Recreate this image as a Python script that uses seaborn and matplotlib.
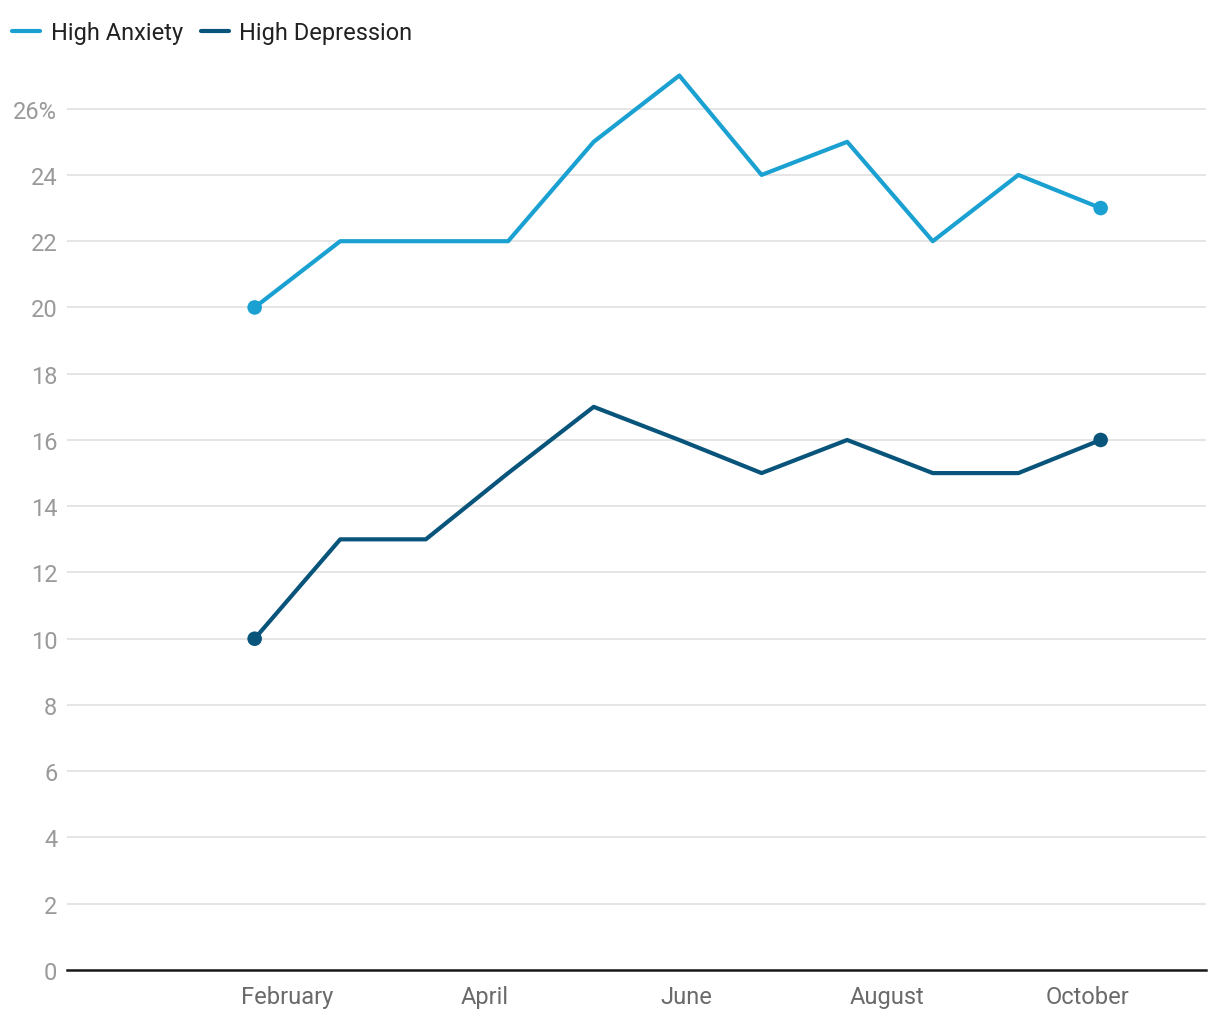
import matplotlib
matplotlib.use('Agg')
import matplotlib.pyplot as plt
import seaborn as sns
import pandas as pd

# survey dates
dates = ['2020-01-22', '2020-02-17', '2020-03-14', '2020-04-08', '2020-05-04',
         '2020-05-30', '2020-06-24', '2020-07-20', '2020-08-15', '2020-09-10',
         '2020-10-05']
anxiety = [20, 22, 22, 22, 25, 27, 24, 25, 22, 24, 23]
depression = [10, 13, 13, 15, 17, 16, 15, 16, 15, 15, 16]
series_names = ['High Anxiety', 'High Depression']
colors = ['#1aa1d1', '#08547a']
y_ticks = [0, 2, 4, 6, 8, 10, 12, 14, 16, 18, 20, 22, 24, 26]
x_ticks = ['2020-02-01', '2020-04-01', '2020-06-01', '2020-08-01', '2020-10-01']
x_labels = ['February', 'April', 'June', 'August', 'October']

df = pd.DataFrame({
    'date': pd.to_datetime(dates * 2),
    'value': anxiety + depression,
    'series': [series_names[0]] * len(dates) + [series_names[1]] * len(dates),
})
ends = df.groupby('series').nth([0, -1])

sns.set_style('white')
plt.rcParams['font.family'] = ['Roboto', 'DejaVu Sans']

fig = plt.figure(figsize=(12.2, 10.2), dpi=100)
ax = fig.add_axes([67 / 1220, 1 - 971 / 1020, (1206 - 67) / 1220, (971 - 60) / 1020])

palette = dict(zip(series_names, colors))
sns.lineplot(data=df, x='date', y='value', hue='series', palette=palette,
             linewidth=3, ax=ax, legend=False)
sns.scatterplot(data=ends, x='date', y='value', hue='series', palette=palette,
                s=110, edgecolor='none', ax=ax, legend=False, zorder=5)

ax.set_xlim(pd.Timestamp('2019-11-26'), pd.Timestamp('2020-11-06'))
ax.set_ylim(0, 27.5)
ax.set_yticks(y_ticks)
ax.set_yticklabels([f'{v}%' if v == 26 else str(v) for v in y_ticks])
ax.set_xticks(pd.to_datetime(x_ticks))
ax.set_xticklabels(x_labels)
ax.set_xlabel('')
ax.set_ylabel('')

ax.grid(axis='y', color='#e3e3e3', linewidth=1.3)
ax.grid(axis='x', visible=False)
for s in ['top', 'right', 'left']:
    ax.spines[s].set_visible(False)
ax.spines['bottom'].set_color('#1a1a1a')
ax.spines['bottom'].set_linewidth(1.8)
ax.spines['bottom'].set_zorder(6)

ax.tick_params(axis='y', length=0, pad=7, labelsize=17, labelcolor='#9a9a9a')
ax.tick_params(axis='x', length=0, pad=11, labelsize=17, labelcolor='#6a6a6a')

handles = [plt.Line2D([], [], color=c, linewidth=3) for c in colors]
fig.legend(handles, series_names, loc='upper left', bbox_to_anchor=(-0.002, 0.992),
           ncol=2, frameon=False, fontsize=17, handlelength=1.2,
           handletextpad=0.45, columnspacing=0.75, labelcolor='#222222',
           borderaxespad=0.2)

fig.savefig('out.png', dpi=100)
